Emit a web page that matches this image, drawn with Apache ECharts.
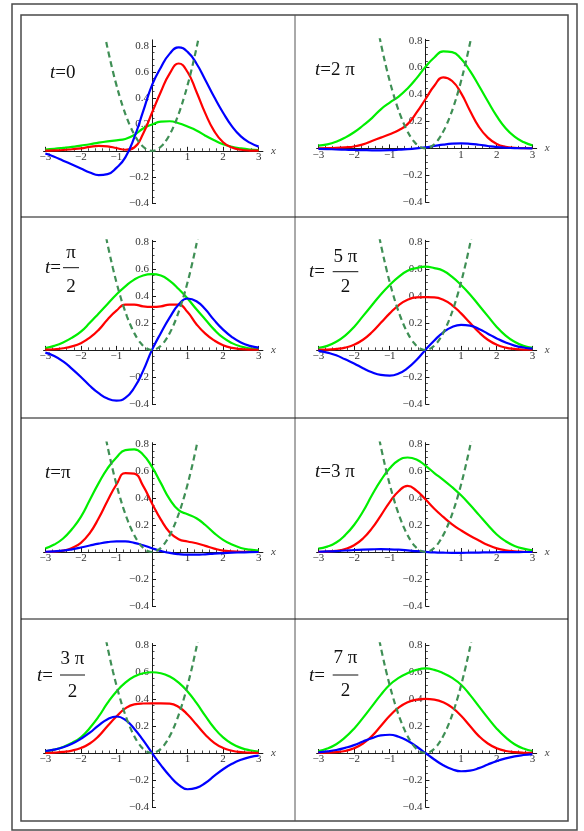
<!DOCTYPE html>
<html><head><meta charset="utf-8">
<script src="https://cdn.jsdelivr.net/npm/echarts@6/dist/echarts.min.js"></script>
<style>html,body{margin:0;padding:0;background:#fff}#c{width:584px;height:831px}</style>
</head><body><div id="c"></div>
<script>
// ---------- data ----------
const xs = [-3,-2.75,-2.5,-2.25,-2,-1.75,-1.5,-1.25,-1,-0.75,-0.5,-0.25,0,0.25,0.5,0.75,1,1.25,1.5,1.75,2,2.25,2.5,2.75,3];

const potentialX = [-1.4,-1.3,-1.2,-1.1,-1,-0.9,-0.8,-0.7,-0.6,-0.5,-0.4,-0.3,-0.2,-0.1,0,0.1,0.2,0.3,0.4,0.5,0.6,0.7,0.8,0.9,1,1.1,1.2,1.3,1.4];
const potentialV = [0.98,0.845,0.72,0.605,0.5,0.405,0.32,0.245,0.18,0.125,0.08,0.045,0.02,0.005,0,0.005,0.02,0.045,0.08,0.125,0.18,0.245,0.32,0.405,0.5,0.605,0.72,0.845,0.98];

// t = 0
const blueT0  = [-0.02,-0.045,-0.075,-0.105,-0.135,-0.165,-0.185,-0.178,-0.13,-0.05,0.1,0.3,0.5,0.635,0.74,0.787,0.753,0.665,0.54,0.41,0.29,0.186,0.11,0.062,0.032];
const redT0   = [0.001,0.003,0.006,0.012,0.019,0.03,0.038,0.034,0.021,0.008,0.025,0.13,0.29,0.45,0.59,0.665,0.6,0.45,0.285,0.15,0.065,0.025,0.008,0.002,0.001];
const greenT0 = [0.01,0.015,0.022,0.03,0.04,0.05,0.062,0.072,0.08,0.09,0.12,0.17,0.2,0.222,0.225,0.21,0.185,0.155,0.115,0.08,0.05,0.03,0.018,0.01,0.006];
// t = 2π
const blueT2Pi  = [-0.003,-0.005,-0.008,-0.01,-0.012,-0.013,-0.014,-0.014,-0.013,-0.01,-0.006,0.0,0.008,0.018,0.028,0.035,0.037,0.034,0.027,0.018,0.01,0.005,0.002,0.001,0.0];
const redT2Pi   = [0.001,0.002,0.004,0.008,0.014,0.03,0.055,0.08,0.105,0.135,0.18,0.265,0.365,0.465,0.528,0.5,0.41,0.28,0.16,0.08,0.033,0.012,0.005,0.002,0.001];
const greenT2Pi = [0.02,0.03,0.05,0.08,0.12,0.17,0.225,0.29,0.34,0.385,0.445,0.52,0.605,0.675,0.72,0.715,0.665,0.575,0.465,0.35,0.24,0.15,0.088,0.047,0.022];
// t = π/2
const blueTPi2  = [-0.02,-0.045,-0.085,-0.14,-0.2,-0.265,-0.32,-0.36,-0.375,-0.355,-0.28,-0.155,0,0.125,0.24,0.335,0.38,0.36,0.3,0.22,0.15,0.095,0.055,0.03,0.017];
const redTPi2   = [0.002,0.005,0.012,0.026,0.05,0.09,0.148,0.225,0.29,0.335,0.335,0.322,0.318,0.322,0.335,0.335,0.28,0.19,0.12,0.07,0.035,0.015,0.006,0.002,0.001];
const greenTPi2 = [0.013,0.03,0.055,0.09,0.135,0.2,0.27,0.34,0.41,0.47,0.52,0.55,0.56,0.55,0.51,0.45,0.38,0.3,0.225,0.15,0.09,0.05,0.025,0.012,0.006];
// t = 5π/2
const blueT5Pi2  = [-0.005,-0.02,-0.04,-0.07,-0.1,-0.135,-0.165,-0.185,-0.19,-0.175,-0.135,-0.075,0,0.07,0.13,0.17,0.185,0.18,0.155,0.12,0.085,0.055,0.032,0.018,0.01];
const redT5Pi2   = [0.001,0.002,0.007,0.017,0.038,0.075,0.13,0.2,0.27,0.33,0.37,0.388,0.39,0.388,0.37,0.33,0.27,0.2,0.13,0.075,0.038,0.017,0.007,0.002,0.001];
const greenT5Pi2 = [0.015,0.03,0.06,0.105,0.17,0.25,0.33,0.41,0.48,0.54,0.585,0.605,0.615,0.605,0.585,0.54,0.48,0.41,0.33,0.25,0.17,0.105,0.06,0.03,0.015];
// t = π
const blueTPi  = [0.002,0.005,0.01,0.02,0.033,0.048,0.062,0.073,0.079,0.078,0.068,0.05,0.028,0.008,-0.007,-0.016,-0.02,-0.02,-0.017,-0.012,-0.008,-0.005,-0.003,-0.001,0];
const redTPi   = [0,0.003,0.01,0.03,0.068,0.14,0.25,0.38,0.5,0.585,0.58,0.49,0.36,0.24,0.145,0.095,0.078,0.065,0.045,0.025,0.01,0.005,0.002,0.001,0];
const greenTPi = [0.027,0.055,0.1,0.17,0.26,0.385,0.51,0.62,0.7,0.755,0.76,0.72,0.63,0.51,0.39,0.31,0.28,0.25,0.2,0.14,0.09,0.055,0.03,0.017,0.01];
// t = 3π
const blueT3Pi  = [0.002,0.004,0.007,0.011,0.015,0.018,0.02,0.021,0.02,0.017,0.012,0.006,0.001,-0.003,-0.005,-0.006,-0.006,-0.005,-0.004,-0.003,-0.002,-0.001,-0.001,0,0];
const redT3Pi   = [0.001,0.003,0.008,0.022,0.05,0.1,0.175,0.27,0.37,0.45,0.49,0.455,0.39,0.32,0.26,0.205,0.16,0.12,0.085,0.052,0.027,0.012,0.005,0.002,0];
const greenT3Pi = [0.025,0.04,0.07,0.125,0.2,0.3,0.42,0.53,0.62,0.68,0.70,0.685,0.64,0.585,0.535,0.48,0.42,0.35,0.275,0.2,0.13,0.08,0.045,0.025,0.013];
// t = 3π/2
const blueT3Pi2  = [0.015,0.025,0.042,0.068,0.105,0.15,0.205,0.25,0.27,0.245,0.18,0.095,0,-0.09,-0.17,-0.235,-0.268,-0.258,-0.222,-0.17,-0.12,-0.08,-0.05,-0.03,-0.02];
const redT3Pi2   = [0.001,0.003,0.008,0.018,0.037,0.07,0.125,0.2,0.27,0.33,0.36,0.366,0.367,0.367,0.365,0.34,0.285,0.21,0.135,0.075,0.037,0.017,0.007,0.003,0.001];
const greenT3Pi2 = [0.012,0.025,0.045,0.075,0.115,0.185,0.27,0.37,0.455,0.52,0.565,0.59,0.597,0.59,0.565,0.52,0.455,0.37,0.275,0.185,0.115,0.068,0.038,0.02,0.01];
// t = 7π/2
const blueT7Pi2  = [0.005,0.012,0.022,0.038,0.058,0.085,0.11,0.13,0.135,0.12,0.09,0.048,0,-0.048,-0.09,-0.12,-0.135,-0.13,-0.112,-0.085,-0.06,-0.04,-0.025,-0.015,-0.008];
const redT7Pi2   = [0.001,0.002,0.006,0.015,0.035,0.07,0.125,0.2,0.275,0.335,0.375,0.395,0.4,0.395,0.375,0.335,0.275,0.2,0.125,0.07,0.035,0.015,0.006,0.002,0.001];
const greenT7Pi2 = [0.015,0.033,0.065,0.115,0.18,0.26,0.345,0.43,0.505,0.555,0.59,0.615,0.625,0.615,0.59,0.555,0.505,0.43,0.345,0.26,0.18,0.115,0.065,0.033,0.015];

const xTickValues = [-3,-2,-1,0,1,2,3];
const xTickLabels = [-3,-2,-1,1,2,3];
const yTickValues = [-0.4,-0.2,0,0.2,0.4,0.6,0.8];
const yTickLabels = [-0.4,-0.2,0.2,0.4,0.6,0.8];

// ---------- layout ----------
const panels = [
  {blue: blueT0,    red: redT0,    green: greenT0,    col:0, y0:150.8, sy:131.3, yMax:0.845},
  {blue: blueT2Pi,  red: redT2Pi,  green: greenT2Pi,  col:1, y0:148.4, sy:134.7, yMax:0.81},
  {blue: blueTPi2,  red: redTPi2,  green: greenTPi2,  col:0, y0:349.9, sy:135.25, yMax:0.81},
  {blue: blueT5Pi2, red: redT5Pi2, green: greenT5Pi2, col:1, y0:349.9, sy:135.25, yMax:0.81},
  {blue: blueTPi,   red: redTPi,   green: greenTPi,   col:0, y0:552, sy:135, yMax:0.81},
  {blue: blueT3Pi,  red: redT3Pi,  green: greenT3Pi,  col:1, y0:552, sy:135, yMax:0.81},
  {blue: blueT3Pi2, red: redT3Pi2, green: greenT3Pi2, col:0, y0:753, sy:135.25, yMax:0.81},
  {blue: blueT7Pi2, red: redT7Pi2, green: greenT7Pi2, col:1, y0:753, sy:135.25, yMax:0.81}
];
const cols = [{zeroX:152, sx:35.55}, {zeroX:425.4, sx:35.67}];
const X_MIN = -3.05, X_MAX = 3.12, Y_MIN = -0.4;

const xMinor = [], yMinor = [];
for (let i = -15; i <= 15; i++) if (i % 5 !== 0) xMinor.push(+(i * 0.2).toFixed(2));
for (let i = -8; i <= 17; i++) if (i % 4 !== 0) yMinor.push(+(i * 0.05).toFixed(2));

const SERIF = "'Liberation Serif','Times New Roman',serif";
const AX = '#1a1a1a', LBL = '#333';
const fmtX = v => (v < 0 ? '\u2212' + Math.abs(v) : '' + v);
const fmtY = v => (v < 0 ? '\u2212' : '') + Math.abs(v).toFixed(1);

const grids = [], xAxes = [], yAxes = [], series = [];
const hidden = {show:false};
function addGrid(g) { grids.push(g); return grids.length - 1; }
function addX(a) { xAxes.push(a); return xAxes.length - 1; }
function addY(a) { yAxes.push(a); return yAxes.length - 1; }

panels.forEach((p) => {
  const c = cols[p.col];
  const left = c.zeroX + X_MIN * c.sx, width = (X_MAX - X_MIN) * c.sx;
  const top = p.y0 - p.yMax * p.sy, height = (p.yMax - Y_MIN) * p.sy;

  // plotting grid (hidden axes)
  const gMain = addGrid({left, width, top, height});
  const xi = addX({gridIndex:gMain, type:'value', min:X_MIN, max:X_MAX, show:false});
  const yi = addY({gridIndex:gMain, type:'value', min:Y_MIN, max:p.yMax, show:false});

  // horizontal axis grid: its bottom edge is y = 0
  const gX = addGrid({left, width, top, height: p.yMax * p.sy});
  addY({gridIndex:gX, type:'value', min:0, max:p.yMax, show:false});
  addX({gridIndex:gX, type:'value', min:X_MIN, max:X_MAX, position:'bottom',
    axisLine:{onZero:false, lineStyle:{color:AX, width:1}},
    axisTick:{inside:true, length:4, customValues:xTickValues, lineStyle:{color:AX, width:1}},
    axisLabel:{customValues:xTickLabels, formatter:fmtX, fontFamily:SERIF, fontSize:11, color:LBL, margin:1},
    splitLine:hidden,
    name:'x', nameLocation:'end', nameGap:8,
    nameTextStyle:{fontFamily:SERIF, fontStyle:'italic', fontSize:11, color:'#444'}});
  addX({gridIndex:gX, type:'value', min:X_MIN, max:X_MAX, position:'bottom',
    axisLine:{show:false, onZero:false},
    axisTick:{inside:true, length:2.5, customValues:xMinor, lineStyle:{color:AX, width:0.8}},
    axisLabel:hidden, splitLine:hidden});

  // vertical axis grid: its left edge is x = 0
  const gY = addGrid({left: c.zeroX, width: X_MAX * c.sx, top, height});
  addX({gridIndex:gY, type:'value', min:0, max:X_MAX, show:false});
  addY({gridIndex:gY, type:'value', min:Y_MIN, max:p.yMax, position:'left',
    axisLine:{onZero:false, lineStyle:{color:AX, width:1}},
    axisTick:{inside:true, length:4, customValues:yTickValues, lineStyle:{color:AX, width:1}},
    axisLabel:{customValues:yTickLabels, formatter:fmtY, fontFamily:SERIF, fontSize:11, color:LBL, margin:3},
    splitLine:hidden});
  addY({gridIndex:gY, type:'value', min:Y_MIN, max:p.yMax, position:'left',
    axisLine:{show:false, onZero:false},
    axisTick:{inside:true, length:2.5, customValues:yMinor, lineStyle:{color:AX, width:0.8}},
    axisLabel:hidden, splitLine:hidden});

  const mk = (arr, color, z) => ({type:'line', xAxisIndex:xi, yAxisIndex:yi, showSymbol:false, smooth:0.5,
    data: xs.map((x, k) => [x, arr[k]]), lineStyle:{color, width:2.2}, z, silent:true});
  series.push(mk(p.green, '#00ee00', 3));
  series.push(mk(p.red, '#ff0000', 4));
  series.push(mk(p.blue, '#0000ff', 5));
  series.push({type:'line', xAxisIndex:xi, yAxisIndex:yi, showSymbol:false, smooth:0.5, z:6, silent:true,
    data: potentialX.map((x, k) => [x, potentialV[k]]),
    lineStyle:{color:'#3f8f55', width:2.2, type:[6,4]}});
});

// ---------- frame & labels ----------
const tStyle = {fontFamily:SERIF, fontSize:19, fill:'#111'};
const rich = {i:{fontStyle:'italic', fontFamily:SERIF, fontSize:19}};
function tLabel(x, y, txt) {
  return {type:'text', x, y, style:Object.assign({text:'{i|t}=' + txt, rich, verticalAlign:'middle', align:'left'}, tStyle)};
}
function tFrac(x, y, barX1, barX2, barY, num, numY, denY) {
  const cx = (barX1 + barX2) / 2;
  return [
    {type:'text', x, y, style:Object.assign({text:'{i|t}=', rich, verticalAlign:'middle', align:'left'}, tStyle)},
    {type:'line', shape:{x1:barX1, y1:barY, x2:barX2, y2:barY}, style:{stroke:'#111', lineWidth:1}},
    {type:'text', x:cx, y:numY, style:Object.assign({text:num, verticalAlign:'middle', align:'center'}, tStyle)},
    {type:'text', x:cx, y:denY, style:Object.assign({text:'2', verticalAlign:'middle', align:'center'}, tStyle)}
  ];
}
const graphic = [
  {type:'rect', shape:{x:12, y:4, width:565, height:826}, style:{fill:'none', stroke:'#4a4a4a', lineWidth:1.5}},
  {type:'rect', shape:{x:21, y:15, width:547, height:806}, style:{fill:'none', stroke:'#4a4a4a', lineWidth:1.5}},
  {type:'line', shape:{x1:295, y1:15, x2:295, y2:821}, style:{stroke:'#555', lineWidth:1}},
  {type:'line', shape:{x1:21, y1:217, x2:568, y2:217}, style:{stroke:'#111', lineWidth:1}},
  {type:'line', shape:{x1:21, y1:418, x2:568, y2:418}, style:{stroke:'#111', lineWidth:1}},
  {type:'line', shape:{x1:21, y1:619, x2:568, y2:619}, style:{stroke:'#111', lineWidth:1}},
  tLabel(50, 73, '0'),
  tLabel(315, 70, '2 \u03c0'),
  tLabel(45, 473, '\u03c0'),
  tLabel(315, 472, '3 \u03c0'),
  ...tFrac(45, 268, 63, 79, 267.7, '\u03c0', 253, 286.7),
  ...tFrac(309, 271.7, 332.7, 358.3, 271.7, '5 \u03c0', 256.7, 286.7),
  ...tFrac(37, 675.7, 60, 85, 675, '3 \u03c0', 659, 691.7),
  ...tFrac(309, 675.7, 332.7, 358.3, 675, '7 \u03c0', 658.3, 691)
];

const chart = echarts.init(document.getElementById('c'), null, {renderer:'canvas'});
chart.setOption({animation:false, backgroundColor:'#fff', grid:grids, xAxis:xAxes, yAxis:yAxes, series, graphic});
</script></body></html>
